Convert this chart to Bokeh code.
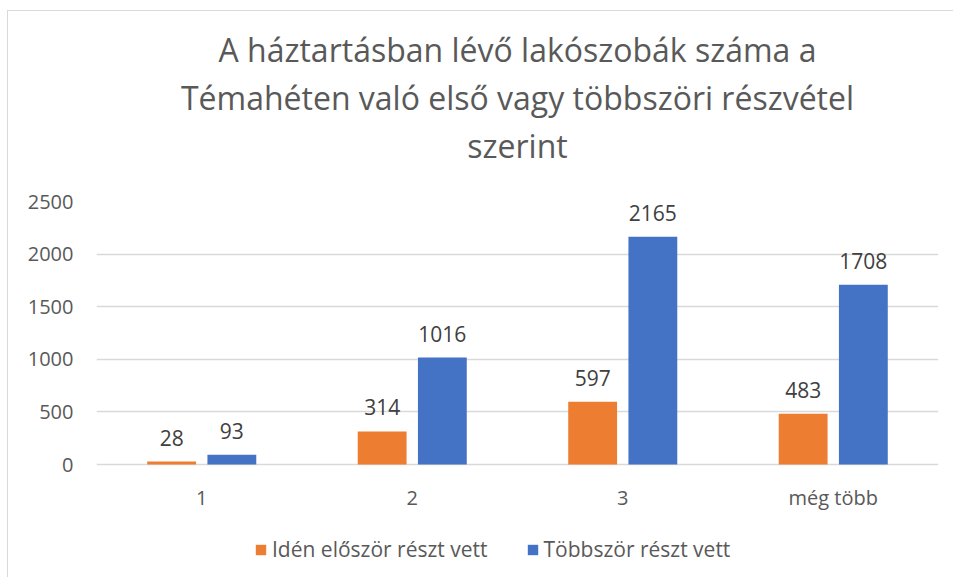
from bokeh.plotting import figure
from bokeh.models import (FactorRange, Range1d, ColumnDataSource, Legend, LegendItem,
                          Title, LabelSet, FixedTicker)
from bokeh.core.properties import value
from bokeh.transform import dodge
from bokeh.embed import file_html
from bokeh.resources import INLINE

# ---- data ----
categories = ["1", "2", "3", "még több"]
first_time = [28, 314, 597, 483]
repeat = [93, 1016, 2165, 1708]
series_names = ["Idén először részt vett", "Többször részt vett"]
y_ticks = [0, 500, 1000, 1500, 2000, 2500]
title_lines = ["A háztartásban lévő lakószobák száma a",
               "Témahéten való első vagy többszöri részvétel",
               "szerint"]

FONT = "Open Sans"
ORANGE = "#ED7D31"
BLUE = "#4472C4"
GRID = "#D9D9D9"
TXT = "#595959"
LBL = "#404040"

# layout (pixels)
W, H = 946, 567
TOP, LEFT, RIGHT = 190, 88, 16
VALUE_PX = 263          # height in px of the 0..2500 value band
BELOW_PX = H - TOP - VALUE_PX  # room under the zero line for labels + legend
y_max = y_ticks[-1]
y_min = -y_max * BELOW_PX / VALUE_PX

src = ColumnDataSource(dict(
    cat=categories,
    first=first_time,
    rep=repeat,
    first_txt=[str(v) for v in first_time],
    rep_txt=[str(v) for v in repeat],
    base=[0] * len(categories),
))

p = figure(x_range=FactorRange(*categories), y_range=Range1d(y_min, y_max),
           width=W, height=H, output_backend="svg", toolbar_location=None,
           min_border_left=LEFT, min_border_right=RIGHT, min_border_top=TOP,
           min_border_bottom=0,
           styles={"border-top": "1px solid #d9d9d9",
                   "border-left": "1px solid #d9d9d9",
                   "margin-top": "10px", "margin-left": "7px"})

p.outline_line_color = None
p.background_fill_color = "white"
p.border_fill_color = "white"

off = 0.143
w = 0.232
r1 = p.vbar(x=dodge("cat", -off, range=p.x_range), top="first", width=w, source=src,
            fill_color=ORANGE, line_color=None)
r2 = p.vbar(x=dodge("cat", off, range=p.x_range), top="rep", width=w, source=src,
            fill_color=BLUE, line_color=None)

for xoff, ycol, tcol in [(-off, "first", "first_txt"), (off, "rep", "rep_txt")]:
    p.add_layout(LabelSet(x=dodge("cat", xoff, range=p.x_range), y=ycol, text=tcol,
                          source=src, text_align="center", text_baseline="middle",
                          y_offset=24, text_font=value(FONT), text_font_size="21px",
                          text_color=LBL))

# category labels under the zero line
p.text(x="cat", y="base", text="cat", source=src, y_offset=33,
       text_align="center", text_baseline="middle", text_font=value(FONT),
       text_font_size="20px", text_color=TXT)

# axes
p.xaxis.visible = False
p.yaxis.ticker = FixedTicker(ticks=y_ticks)
p.yaxis.axis_line_color = None
p.yaxis.major_tick_line_color = None
p.yaxis.minor_tick_line_color = None
p.yaxis.major_tick_out = 0
p.yaxis.major_tick_in = 0
p.yaxis.major_label_standoff = 23
p.yaxis.major_label_text_font = FONT
p.yaxis.major_label_text_font_size = "20px"
p.yaxis.major_label_text_color = TXT

p.xgrid.grid_line_color = None
p.ygrid.ticker = FixedTicker(ticks=y_ticks)
p.ygrid.grid_line_color = GRID
p.ygrid.grid_line_width = 1.5

# title: a spacer next to the frame, then the three lines stacked outward
p.add_layout(Title(text=" ", text_font_size="1px", standoff=31), "above")
for line, so in reversed(list(zip(title_lines, [2, 4, 2]))):
    p.add_layout(Title(text=line, align="center", text_font=FONT, text_font_size="32px",
                       text_font_style="normal", text_color=TXT, standoff=so), "above")

legend = Legend(items=[LegendItem(label=series_names[0], renderers=[r1]),
                       LegendItem(label=series_names[1], renderers=[r2])],
                orientation="horizontal", location=(158, 15),
                label_text_font=FONT, label_text_font_size="21px",
                label_text_color=TXT, glyph_width=13, glyph_height=13,
                label_standoff=5, spacing=38, border_line_color=None,
                background_fill_alpha=0, margin=0, padding=6)
p.add_layout(legend)

open("out.html", "w").write(file_html(p, INLINE))
